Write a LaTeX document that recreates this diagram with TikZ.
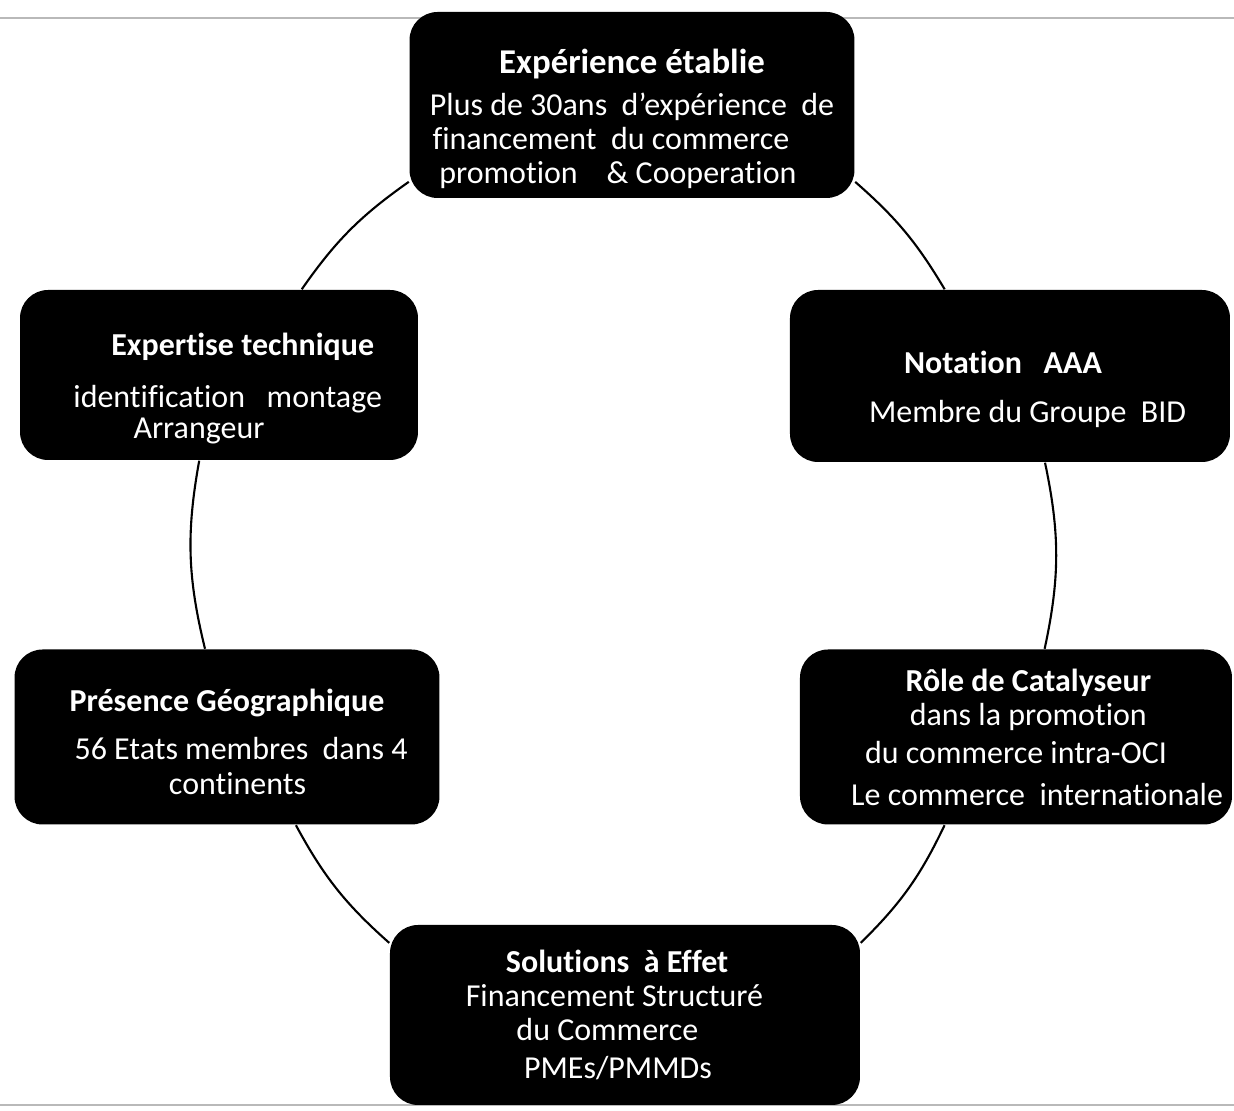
\documentclass[tikz,border=0pt]{standalone}
\usepackage{fontspec}
\setmainfont{Carlito}[Ligatures=NoCommon]
\usetikzlibrary{positioning}

\tikzset{
  block/.style={fill=black,rounded corners=8pt,text=white,align=center,
    inner sep=0pt,font=\fontsize{9.1}{9.8}\selectfont},
  ring/.style={draw=black,line width=0.6pt},
  rule/.style={draw=gray!55,line width=0.7pt}
}

\begin{document}
\begin{tikzpicture}

  \useasboundingbox (0,0) rectangle (12.34,11.11);

  % grey rules (page edges)
  \draw[rule] (0,10.93) -- (12.34,10.93);
  \draw[rule] (0,0.06) -- (12.34,0.06);

  % the six blocks
  \node[block,minimum width=4.45cm,minimum height=1.86cm] (experience) at (6.32,10.06)
    {\rule{0pt}{15pt}{\fontsize{9.9}{9.8}\selectfont\bfseries Expérience établie}\\[2pt]
     Plus de 30ans\ \ d’expérience\ \ de\\
     \hspace{-12pt}financement\ \ du commerce\\
     promotion\ \ \ \ \& Cooperation\hspace*{8pt}};
  \node[block,minimum width=3.98cm,minimum height=1.70cm] (expertise) at (2.19,7.36)
    {\rule{0pt}{14pt}\hspace{13.5pt}\textbf{Expertise technique}\\[5pt]
     \hspace{5pt}identification\ \ \ montage\\[-1pt]
     Arrangeur\hspace*{11.4pt}};
  \node[block,minimum width=4.40cm,minimum height=1.72cm] (notation) at (10.10,7.35)
    {\rule{0pt}{14pt}\textbf{Notation\ \ \ AAA}\hspace*{4pt}\\[4pt]
     \hspace{10pt}Membre du Groupe\ \ BID};
  \node[block,minimum width=4.25cm,minimum height=1.75cm] (presence) at (2.27,3.74)
    {\rule{0pt}{9pt}\textbf{Présence Géographique}\\[4pt]
     \hspace{8pt}56 Etats membres\ \ dans 4\\
     \hspace{6pt}continents};
  \node[block,minimum width=4.32cm,minimum height=1.75cm] (catalyseur) at (10.16,3.74)
    {\hspace{7pt}\textbf{Rôle de Catalyseur}\\
     \hspace{7pt}dans la promotion\\[1pt]
     du commerce intra-OCI\\[2pt]
     \hspace{12pt}Le commerce\ \ internationale};
  \node[block,minimum width=4.70cm,minimum height=1.80cm] (solutions) at (6.25,0.96)
    {\textbf{Solutions\ \ à Effet}\hspace*{4.5pt}\\
     \hspace{-6pt}Financement Structuré\\
     \hspace{-10pt}du Commerce\\[1pt]
     PMEs/PMMDs\hspace*{4pt}};

  % ring joining the blocks
  \draw[ring] (experience.199) to[bend right=10] (expertise.46);
  \draw[ring] (expertise.257) to[bend right=12] (presence.104);
  \draw[ring] (presence.308) to[bend right=10] (solutions.163);
  \draw[ring] (solutions.17) to[bend right=10] (catalyseur.231);
  \draw[ring] (catalyseur.72) to[bend right=12] (notation.292);
  \draw[ring] (notation.127) to[bend right=9] (experience.341);

\end{tikzpicture}
\end{document}
